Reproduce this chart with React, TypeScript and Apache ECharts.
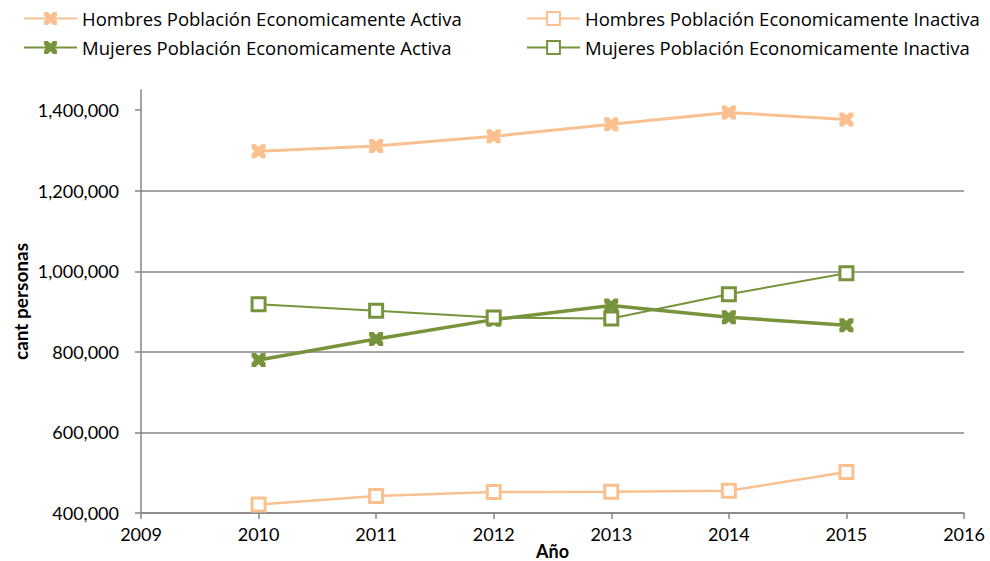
import React, { useEffect, useRef } from "react";
import * as echarts from "echarts";

const years = [2010, 2011, 2012, 2013, 2014, 2015];
const hombresActiva = [1298000, 1311000, 1335000, 1365000, 1394000, 1377000];
const hombresInactiva = [421000, 442000, 452000, 453000, 455000, 502000];
const mujeresActiva = [780000, 832000, 880000, 915000, 886000, 866000];
const mujeresInactiva = [918000, 902000, 885000, 883000, 943000, 995000];
const yTicks = [400000, 600000, 800000, 1000000, 1200000, 1400000];

const names = [
  "Hombres Población Economicamente Activa",
  "Hombres Población Economicamente Inactiva",
  "Mujeres Población Economicamente Activa",
  "Mujeres Población Economicamente Inactiva",
];

const ORANGE = "#FAC08F";
const GREEN = "#77933C";
const FONT = "Lato";
const X_MARK =
  "path://M0,0 L3,0 L5,2 L7,0 L10,0 L10,3 L8,5 L10,7 L10,10 L7,10 L5,8 L3,10 L0,10 L0,7 L2,5 L0,3 Z";

const pair = (vals: number[]) => years.map((y, i) => [y, vals[i]]);

export default function App() {
  const ref = useRef<HTMLDivElement>(null);
  useEffect(() => {
    if (!ref.current) return;
    const chart = echarts.init(ref.current, null, { renderer: "svg" });
    const legendText = { fontFamily: "Open Sans", fontSize: 18.5, color: "#000" };
    const legendBase = {
      orient: "vertical",
      top: 9,
      padding: 0,
      itemWidth: 53,
      itemHeight: 16,
      itemGap: 10,
      textStyle: legendText,
    };
    chart.setOption({
      animation: false,
      textStyle: { fontFamily: FONT },
      legend: [
        { ...legendBase, left: 23, data: [names[0], names[2]] },
        { ...legendBase, left: 526, data: [names[1], names[3]] },
      ],
      grid: { left: 141, right: 26, top: 90, bottom: 48, outerBoundsMode: "none", containLabel: false },
      xAxis: {
        type: "value",
        min: 2009,
        max: 2016,
        interval: 1,
        name: "Año",
        nameLocation: "middle",
        nameGap: 29,
        nameMoveOverlap: false,
        nameTextStyle: {
          fontFamily: FONT,
          fontSize: 18,
          lineHeight: 18,
          fontWeight: "bold",
          color: "#000",
        },
        axisLine: { show: true, lineStyle: { color: "#868686", width: 1.5 } },
        axisTick: { show: true, length: 6, lineStyle: { color: "#868686", width: 1.5 } },
        axisLabel: {
          fontFamily: FONT,
          fontSize: 18,
          color: "#000",
          margin: 12,
          formatter: (v: number) => String(v),
        },
        splitLine: { show: false },
      },
      yAxis: {
        type: "value",
        min: 400000,
        max: 1450000,
        interval: 200000,
        name: "cant personas",
        nameLocation: "middle",
        nameGap: 111,
        nameMoveOverlap: false,
        nameRotate: 90,
        nameTextStyle: { fontFamily: FONT, fontSize: 19, fontWeight: "bold", color: "#000" },
        axisLine: { show: true, lineStyle: { color: "#868686", width: 1.5 } },
        axisTick: {
          show: true,
          length: 6,
          customValues: yTicks,
          lineStyle: { color: "#868686", width: 1.5 },
        },
        axisLabel: {
          fontFamily: FONT,
          fontSize: 18,
          color: "#000",
          margin: 22,
          customValues: yTicks,
          formatter: (v: number) => v.toLocaleString("en-US"),
        },
        splitLine: {
          show: true,
          showMaxLine: false,
          lineStyle: { color: "#878787", width: 1.5 },
        },
      },
      series: [
        {
          name: names[0],
          type: "line",
          data: pair(hombresActiva),
          symbol: X_MARK,
          symbolSize: 14,
          lineStyle: { color: ORANGE, width: 3 },
          itemStyle: { color: ORANGE, borderWidth: 0 },
        },
        {
          name: names[1],
          type: "line",
          data: pair(hombresInactiva),
          symbol: "rect",
          symbolSize: 13,
          lineStyle: { color: ORANGE, width: 2.5 },
          itemStyle: { color: "#fff", borderColor: ORANGE, borderWidth: 3 },
        },
        {
          name: names[2],
          type: "line",
          data: pair(mujeresActiva),
          symbol: X_MARK,
          symbolSize: 14,
          lineStyle: { color: GREEN, width: 3.5 },
          itemStyle: { color: GREEN, borderWidth: 0 },
        },
        {
          name: names[3],
          type: "line",
          data: pair(mujeresInactiva),
          symbol: "rect",
          symbolSize: 13,
          lineStyle: { color: GREEN, width: 2 },
          itemStyle: { color: "#fff", borderColor: GREEN, borderWidth: 3 },
        },
      ],
    });
    return () => chart.dispose();
  }, []);
  return <div ref={ref} style={{ width: 990, height: 561, position: "absolute", left: 0, top: 0 }} />;
}
